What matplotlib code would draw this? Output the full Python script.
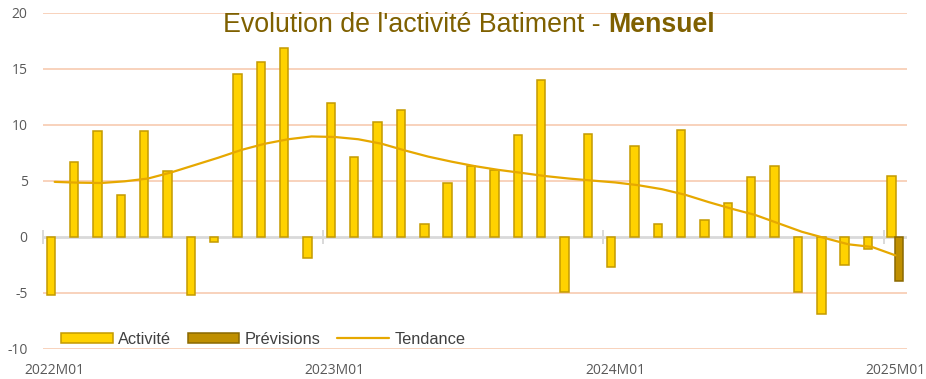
import numpy as np
import matplotlib
matplotlib.use("Agg")
import matplotlib.pyplot as plt

# Monthly building-activity data, 2022M01 .. 2025M01
months = [f"{y}M{m:02d}" for y in (2022, 2023, 2024) for m in range(1, 13)] + ["2025M01"]

activite = [-5.2, 6.7, 9.4, 3.7, 9.4, 5.9, -5.2, -0.5, 14.5, 15.6, 16.8, -1.9,
            11.9, 7.1, 10.2, 11.3, 1.1, 4.8, 6.3, 6.0, 9.1, 14.0, -4.9, 9.2,
            -2.7, 8.1, 1.1, 9.5, 1.5, 3.0, 5.3, 6.3, -4.9, -6.9, -2.5, -1.1,
            5.4]

# Only the last month carries a forecast value
previsions = [np.nan] * 36 + [-3.9]

tendance = [4.9, 4.83, 4.8, 4.95, 5.2, 5.75, 6.4, 7.05, 7.75, 8.3, 8.7, 8.95,
            8.9, 8.7, 8.3, 7.7, 7.15, 6.7, 6.3, 5.97, 5.7, 5.42, 5.2, 5.02,
            4.85, 4.6, 4.25, 3.75, 3.1, 2.5, 1.95, 1.2, 0.45, -0.12, -0.67, -0.9,
            -1.65]

yticks = [-10, -5, 0, 5, 10, 15, 20]
label_months = ["2022M01", "2023M01", "2024M01", "2025M01"]

# Styling
C_ACT, C_ACT_EDGE = "#FFD200", "#C49A00"
C_PREV, C_PREV_EDGE = "#BF8F00", "#8A6800"
C_TREND = "#E6A800"
C_GRID = "#F8D2BC"
C_ZERO = "#D9D9D9"
C_TICK = "#595959"
C_TITLE = "#7F6000"

W, H, DPI = 926, 379, 100
fig = plt.figure(figsize=(W / DPI, H / DPI), dpi=DPI)
ax = fig.add_axes([43 / W, 1 - 349 / H, (907 - 43) / W, (349 - 12.5) / H])

x = np.arange(len(months))
bw = 0.36
off = 0.17

h_act = ax.bar(x - off, activite, width=bw, color=C_ACT, edgecolor=C_ACT_EDGE,
               linewidth=1.1, label="Activité", zorder=3)
h_prev = ax.bar(x + off, previsions, width=bw, color=C_PREV, edgecolor=C_PREV_EDGE,
                linewidth=1.1, label="Prévisions", zorder=3)
h_trend, = ax.plot(x, tendance, color=C_TREND, linewidth=1.6, label="Tendance",
                   zorder=4, solid_capstyle="round")

ax.set_xlim(-0.5, len(months) - 0.5)
ax.set_ylim(-10, 20)

# Horizontal grid (zero line drawn separately in grey)
for v in yticks:
    if v != 0:
        ax.axhline(v, color=C_GRID, linewidth=1.4, zorder=1)
ax.axhline(0, color=C_ZERO, linewidth=2.0, zorder=2)

for s in ax.spines.values():
    s.set_visible(False)

ax.set_yticks(yticks)
ax.set_yticklabels([str(v) for v in yticks], fontsize=10, color=C_TICK,
                   family="Open Sans")
ax.tick_params(axis="y", length=0, pad=11)

pos = [months.index(m) for m in label_months]
ax.set_xticks(pos)
ax.set_xticklabels(label_months, fontsize=10, color=C_TICK, family="Open Sans")
ax.tick_params(axis="x", length=0, pad=10)

# Year-boundary tick marks sitting on the zero line
sec = ax.secondary_xaxis(10 / 30)
sec.set_xticks([p - 0.5 for p in pos])
sec.set_xticklabels([])
sec.tick_params(axis="x", direction="inout", length=10, width=1.4, color=C_ZERO)
sec.spines["bottom"].set_visible(False)

# Title with bold suffix
fs_title = 19.3
t1 = fig.text(0, 0, "Evolution de l'activité Batiment - ", fontsize=fs_title,
              color=C_TITLE, family="Liberation Sans", va="baseline")
t2 = fig.text(0, 0, "Mensuel", fontsize=fs_title, color=C_TITLE,
              family="Liberation Sans", fontweight="bold", va="baseline")
fig.canvas.draw()
r = fig.canvas.get_renderer()
w1 = t1.get_window_extent(r).width
w2 = t2.get_window_extent(r).width
cx = 469
x0 = cx - (w1 + w2) / 2
base_y = 1 - 31.5 / H
t1.set_position((x0 / W, base_y))
t2.set_position(((x0 + w1) / W, base_y))

leg = ax.legend(handles=[h_act, h_prev, h_trend],
                loc="center left", bbox_to_anchor=(61 / W, 1 - 339 / H),
                bbox_transform=fig.transFigure, ncol=3, frameon=False,
                prop={"family": "Liberation Sans", "size": 11.8},
                handlelength=3.15, handleheight=0.6, handletextpad=0.35,
                columnspacing=1.0, borderpad=0, borderaxespad=0)
for txt in leg.get_texts():
    txt.set_color("#404040")

fig.savefig("out.png", dpi=DPI, facecolor="white")
